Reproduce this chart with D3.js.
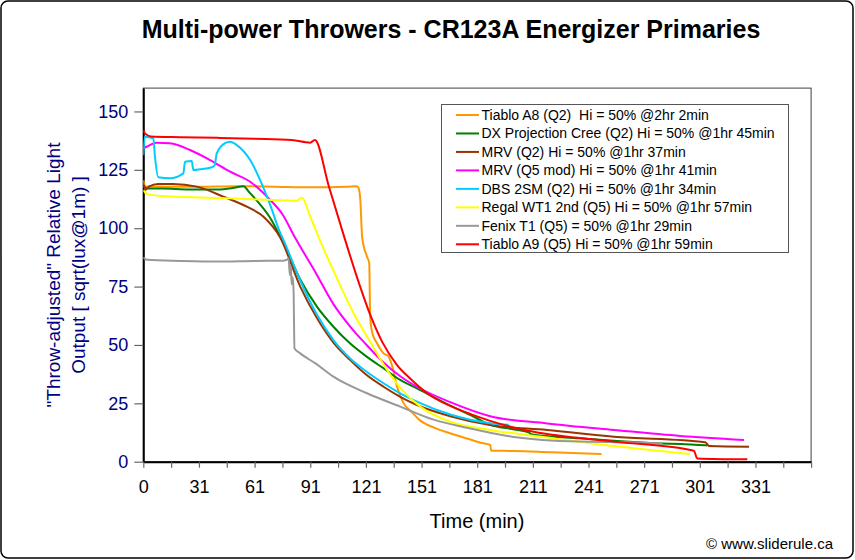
<!DOCTYPE html>
<html>
<head>
<meta charset="utf-8">
<script src="https://cdn.jsdelivr.net/npm/d3@7"></script>
<style>
  html, body { margin: 0; padding: 0; background: #fff; }
  svg { display: block; font-family: "Liberation Sans", Arial, sans-serif; }
</style>
</head>
<body>
<svg id="chart" width="855" height="560"></svg>
<script>
// ---------------- data ----------------
const chartTitle = "Multi-power Throwers - CR123A Energizer Primaries";
const xTitle = "Time (min)";
const yTitleLines = ['"Throw-adjusted" Relative Light', 'Output [ sqrt(lux@1m) ]'];
const credit = "\u00a9 www.sliderule.ca";

const xTickLabels = ["0", "31", "61", "91", "121", "151", "181", "211", "241", "271", "301", "331"];
const yTickValues = [0, 25, 50, 75, 100, 125, 150];

const seriesNames = [
  "Tiablo A8 (Q2)  Hi = 50% @2hr 2min",
  "DX Projection Cree (Q2) Hi = 50% @1hr 45min",
  "MRV (Q2) Hi = 50% @1hr 37min",
  "MRV (Q5 mod) Hi = 50% @1hr 41min",
  "DBS 2SM (Q2) Hi = 50% @1hr 34min",
  "Regal WT1 2nd (Q5) Hi = 50% @1hr 57min",
  "Fenix T1 (Q5) = 50% @1hr 29min",
  "Tiablo A9 (Q5) Hi = 50% @1hr 59min"
];
const seriesColors = ["#FF9900", "#008000", "#993300", "#FF00FF", "#00CCFF", "#FFFF00", "#999999", "#FF0000"];

// [minutes, output]
const tiabloA8 = [[0,120.6],[1,118],[10,117.8],[30,117.8],[50,118],[70,117.8],[90,117.5],[110,117.8],[115,118],[116,117.3],[117,112],[118,96],[120.6,87.8],[121.8,85],[122.3,62],[123.5,55],[126,50.7],[129.5,46.4],[132,45.2],[134.5,40],[136.5,33],[140,25.5],[145,21],[149,17.8],[157,14.5],[165,12.3],[175,9.8],[182,8.1],[187,7.2],[187.6,4.7],[200,4.6],[220,4.0],[247,3.3]];
const dxCree = [[0,118.4],[2,117],[10,117],[25,116.6],[40,116.6],[48,117.2],[54,118],[57,115.5],[61,112],[68,104.9],[76,93],[84.6,78],[93.6,66.4],[102.5,57.8],[111.4,50.7],[120.4,45],[129.5,40],[138.5,35],[147.5,31.4],[165.5,24],[180,18.5],[186,16],[200,13.8],[208,12.5],[209,11.8],[235,10],[271,8.1],[303,7.0],[304,6.9]];
const mrvQ2 = [[0,119.2],[1,116.4],[3,117.8],[8,118.9],[16,118.9],[28.8,117.8],[43.2,113.5],[55.8,109.2],[64.8,104.9],[73.8,96],[84.6,75],[93.6,61.5],[102.5,51],[111.4,43.6],[120.4,37.1],[129.5,32.1],[138.5,27.8],[147.5,24.3],[165.5,19.5],[187,15.7],[217.7,13.6],[253.6,10.7],[303,8.3],[305,6.7],[326.5,6.4]];
const mrvQ5 = [[0,134.2],[2,135],[7.2,136.6],[14.4,136.4],[25.2,133.5],[36,129.2],[46.8,124.2],[57.6,119.9],[68.4,112.1],[75,106],[81.8,96],[93.6,80],[102.5,67.5],[111.4,58],[120.4,50],[129.5,42.5],[138.5,36.6],[147.5,32.1],[165.5,25.5],[187,19.5],[217.7,16.4],[253.6,13.6],[289.6,11],[323.8,9.3]];
const dbs2sm = [[0,131.3],[0.8,139.2],[5.4,138.5],[6.3,130.6],[8.1,121.8],[14.4,121.4],[21.6,123.5],[22.5,128.5],[26.1,128.8],[27,124.9],[30.6,125.2],[36.9,126.1],[38.5,127.1],[39.6,132.1],[44.1,136.4],[46.8,137],[50.4,135.6],[57.6,129.2],[63,120.6],[68.4,110],[73.8,98],[75.6,94.9],[84.6,77.5],[93.6,63],[102.5,52.1],[111.4,44.3],[120.4,38.5],[129.5,33.6],[138.5,29.3],[147.5,25.7],[165.5,20.2],[187,16.5],[197,15.8]];
const regalWT1 = [[0,116.3],[2,114.6],[10,113.8],[46.8,112.8],[82.8,111.8],[85.5,113.2],[90,104.9],[95.4,94.5],[104.4,78.5],[113.4,63.5],[122.3,51.4],[131.4,39.3],[140.4,30],[149.3,23.6],[165.5,17.1],[187,13.6],[217.7,10.4],[253.6,6.7],[294.7,3.3]];
const fenixT1 = [[0,87.5],[2,86.5],[20,86],[40,85.7],[60,86],[75.6,86.1],[77.5,86.5],[78.3,87.1],[79,80],[79.5,84],[80,76],[80.5,79],[81,73.5],[81.5,48.6],[84.6,46.4],[93,42],[102.5,36.4],[120.6,29.3],[138.5,23.6],[156.5,18],[174.5,14.5],[187,12.4],[199.7,10.6],[235,8.6],[262,8.3],[280,7.8]];
const tiabloA9 = [[0,142],[1,140.5],[4,139.3],[20,139],[40,138.7],[60,138.3],[80,137.8],[90,136.6],[92.5,137.8],[100,118],[108.8,95],[115,79.5],[122.3,63],[129,51],[136.7,41.5],[144,35.5],[153,29.3],[174.5,21],[187,17.5],[198,15],[210.5,12.8],[253.6,8.6],[296.8,4.7],[298.6,1.4],[325.6,1.0]];

const seriesData = [tiabloA8, dxCree, mrvQ2, mrvQ5, dbs2sm, regalWT1, fenixT1, tiabloA9];

// ---------------- drawing ----------------
const svg = d3.select("#chart");
const font = '"Liberation Sans", Arial, sans-serif';
const navy = "#000080";

// outer frame
svg.append("rect").attr("x", 1).attr("y", 1).attr("width", 852).attr("height", 557)
  .attr("rx", 7).attr("fill", "#fff").attr("stroke", "#000").attr("stroke-width", 1.5);

const x = d3.scaleLinear().domain([0, 360]).range([143.3, 811.1]);
const y = d3.scaleLinear().domain([0, 160]).range([461.7, 88.1]);

// plot frame
svg.append("rect").attr("x", x(0)).attr("y", y(160)).attr("width", x(360) - x(0)).attr("height", y(0) - y(160))
  .attr("fill", "none").attr("stroke", "#404040").attr("stroke-width", 1);

// title
svg.append("text").attr("x", 451).attr("y", 38).attr("text-anchor", "middle")
  .attr("font-size", 25).attr("font-weight", "bold").attr("fill", "#000").text(chartTitle);

// y axis
const yAxis = d3.axisLeft(y).tickValues(yTickValues).tickSize(9).tickPadding(6).tickSizeOuter(0);
const gy = svg.append("g").attr("transform", `translate(${x(0)},0)`).call(yAxis);
gy.select(".domain").attr("stroke", "#000").attr("stroke-width", 2);
gy.selectAll(".tick line").attr("stroke", "#666").attr("stroke-width", 1.2);
gy.selectAll(".tick text").attr("font-size", 18).attr("font-family", font).attr("fill", navy);

// x axis
const xTickVals = d3.range(0, 361, 15);
const xAxis = d3.axisBottom(x).tickValues(xTickVals).tickSize(6).tickPadding(13).tickSizeOuter(0)
  .tickFormat(d => (d % 30 === 0 && xTickLabels[d / 30] !== undefined) ? xTickLabels[d / 30] : "");
const gx = svg.append("g").attr("transform", `translate(0,${y(0)})`).call(xAxis);
gx.select(".domain").attr("stroke", "#000").attr("stroke-width", 2);
gx.selectAll(".tick line").attr("stroke", "#666").attr("stroke-width", 1.2);
gx.selectAll(".tick text").attr("font-size", 18).attr("font-family", font).attr("fill", "#000");

// axis titles
svg.append("text").attr("x", 477).attr("y", 528).attr("text-anchor", "middle")
  .attr("font-size", 20).attr("fill", "#000").text(xTitle);

const yt = svg.append("text").attr("transform", "translate(60,275) rotate(-90)")
  .attr("text-anchor", "middle").attr("font-size", 19).attr("fill", navy);
yt.append("tspan").attr("x", 0).attr("y", 0).text(yTitleLines[0]);
yt.append("tspan").attr("x", 0).attr("y", 25).text(yTitleLines[1]);

// credit
svg.append("text").attr("x", 833).attr("y", 549).attr("text-anchor", "end")
  .attr("font-size", 15).attr("fill", "#000").text(credit);

// series lines
svg.append("clipPath").attr("id", "plotclip").append("rect")
  .attr("x", x(0)).attr("y", y(160)).attr("width", x(360) - x(0)).attr("height", y(0) - y(160));
const line = d3.line().x(d => x(d[0])).y(d => y(d[1])).curve(d3.curveMonotoneX);
const gl = svg.append("g").attr("clip-path", "url(#plotclip)");
seriesData.forEach((s, i) => {
  gl.append("path").datum(s).attr("d", line).attr("fill", "none")
    .attr("stroke", seriesColors[i]).attr("stroke-width", 2).attr("stroke-linejoin", "round");
});

// legend
const lg = svg.append("g");
lg.append("rect").attr("x", 441.5).attr("y", 104.5).attr("width", 347).attr("height", 148)
  .attr("fill", "#fff").attr("stroke", "#555").attr("stroke-width", 1);
seriesNames.forEach((name, i) => {
  const cy = 115 + i * 18.47;
  lg.append("line").attr("x1", 456).attr("x2", 479).attr("y1", cy).attr("y2", cy)
    .attr("stroke", seriesColors[i]).attr("stroke-width", 2);
  lg.append("text").attr("x", 481.5).attr("y", cy + 5).attr("font-size", 14)
    .style("white-space", "pre").attr("fill", "#000").text(name);
});
</script>
</body>
</html>
